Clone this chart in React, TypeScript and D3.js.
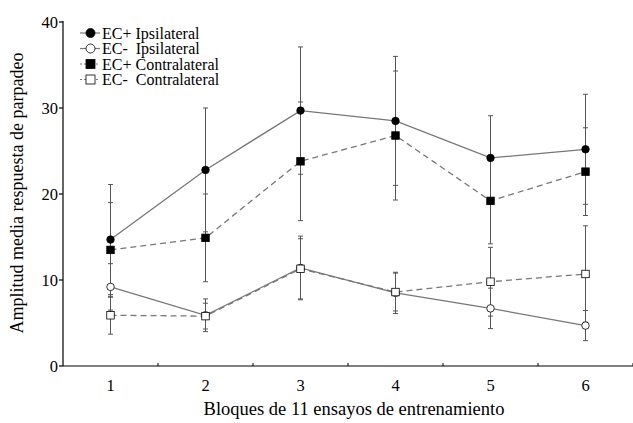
import * as React from 'react';
import * as d3 from 'd3';

const blocks = [1, 2, 3, 4, 5, 6];
const yTicks = [0, 10, 20, 30, 40];

const ecPlusIpsi = [14.7, 22.8, 29.7, 28.5, 24.2, 25.2];
const ecPlusIpsiErr = [6.4, 7.2, 7.4, 7.5, 4.9, 6.4];
const ecMinusIpsi = [9.2, 5.9, 11.4, 8.5, 6.7, 4.7];
const ecMinusIpsiErr = [2.7, 1.9, 3.7, 2.4, 2.35, 1.75];
const ecPlusContra = [13.5, 14.9, 23.8, 26.8, 19.2, 22.6];
const ecPlusContraErr = [5.5, 5.1, 6.9, 7.5, 5.0, 5.1];
const ecMinusContra = [5.9, 5.8, 11.3, 8.6, 9.8, 10.7];
const ecMinusContraErr = [2.2, 1.5, 3.5, 2.2, 4.0, 5.6];

const series = [
    { name: 'EC+ Ipsilateral', values: ecPlusIpsi, err: ecPlusIpsiErr, shape: 'circle', filled: true, dashed: false },
    { name: 'EC-  Ipsilateral', values: ecMinusIpsi, err: ecMinusIpsiErr, shape: 'circle', filled: false, dashed: false },
    { name: 'EC+ Contralateral', values: ecPlusContra, err: ecPlusContraErr, shape: 'square', filled: true, dashed: true },
    { name: 'EC-  Contralateral', values: ecMinusContra, err: ecMinusContraErr, shape: 'square', filled: false, dashed: true }
];

const config = {
    width: 633,
    height: 423,
    left: 63,
    right: 633,
    top: 22,
    bottom: 366
};

const font = 'Liberation Serif, DejaVu Serif, serif';

function Marker(props) {
    const { shape, filled, x, y, size } = props;
    const fill = filled ? '#000' : '#fff';
    if (shape === 'circle') {
        return <circle cx={x} cy={y} r={size / 2} fill={fill} stroke="#000" strokeWidth={0.8} />;
    }
    return <rect x={x - size / 2} y={y - size / 2} width={size} height={size} fill={fill} stroke="#000" strokeWidth={0.8} />;
}

export default function App() {
    const xScale = d3.scaleLinear()
        .domain([0.5, 6.5])
        .range([config.left, config.right]);
    const yScale = d3.scaleLinear()
        .domain([0, 40])
        .range([config.bottom, config.top]);

    const line = d3.line<number>()
        .x((d, i) => xScale(blocks[i]))
        .y(d => yScale(d));

    const boundaries = d3.range(1, 7).map(i => i + 0.5);

    return (
        <svg width={config.width} height={config.height} style={{ position: 'absolute', left: 0, top: 0 }}>
            <g fontFamily={font}>
            {/* axes */}
            <line x1={config.left} x2={config.left} y1={config.top - 1} y2={config.bottom} stroke="#000" strokeWidth={1.2} />
            <line x1={config.left} x2={config.right} y1={config.bottom} y2={config.bottom} stroke="#000" strokeWidth={1.2} />
            {yTicks.map(t => (
                <g key={'y' + t}>
                    <line x1={config.left - 4} x2={config.left} y1={yScale(t)} y2={yScale(t)} stroke="#000" strokeWidth={1.2} />
                    <text x={config.left - 5} y={yScale(t)} dy="0.35em" textAnchor="end" fontSize={16.5}>{t}</text>
                </g>
            ))}
            {boundaries.map(b => (
                <line key={'b' + b} x1={xScale(b)} x2={xScale(b)} y1={config.bottom} y2={config.bottom - 3} stroke="#000" strokeWidth={1} />
            ))}
            {blocks.map(b => (
                <text key={'x' + b} x={xScale(b)} y={config.bottom + 25} textAnchor="middle" fontSize={16.5}>{b}</text>
            ))}
            <text x={354} y={415} textAnchor="middle" fontSize={18.5}>Bloques de 11 ensayos de entrenamiento</text>
            <text transform={`translate(23,193) rotate(-90)`} textAnchor="middle" fontSize={18}>Amplitud media respuesta de parpadeo</text>

            {/* series lines */}
            {series.map(s => (
                <path key={'l' + s.name} d={line(s.values)} fill="none" stroke="#777" strokeWidth={1.3} strokeDasharray={s.dashed ? '6,4' : null} />
            ))}
            {/* error bars */}
            {series.map(s => (
                <g key={'e' + s.name} stroke="#555" strokeWidth={1}>
                    {s.values.map((v, i) => {
                        const x = xScale(blocks[i]);
                        const hi = yScale(v + s.err[i]);
                        const lo = yScale(v - s.err[i]);
                        return (
                            <g key={i}>
                                <line x1={x} x2={x} y1={hi} y2={lo} />
                                <line x1={x - 2.5} x2={x + 2.5} y1={hi} y2={hi} />
                                <line x1={x - 2.5} x2={x + 2.5} y1={lo} y2={lo} />
                            </g>
                        );
                    })}
                </g>
            ))}
            {/* markers */}
            {series.map(s => (
                <g key={'m' + s.name}>
                    {s.values.map((v, i) => (
                        <Marker key={i} shape={s.shape} filled={s.filled} size={7.5} x={xScale(blocks[i])} y={yScale(v)} />
                    ))}
                </g>
            ))}
            {/* legend */}
            {series.map((s, i) => {
                const y = 33 + i * 15.5;
                return (
                    <g key={'lg' + s.name}>
                        <line x1={80} x2={100} y1={y} y2={y} stroke="#777" strokeWidth={1.2} strokeDasharray={s.dashed ? '2,2' : null} />
                        <Marker shape={s.shape} filled={s.filled} size={9} x={90.5} y={y} />
                        <text x={102} y={y} dy="0.35em" fontSize={16} style={{ whiteSpace: 'pre' }}>{s.name}</text>
                    </g>
                );
            })}
            </g>
        </svg>
    );
}
